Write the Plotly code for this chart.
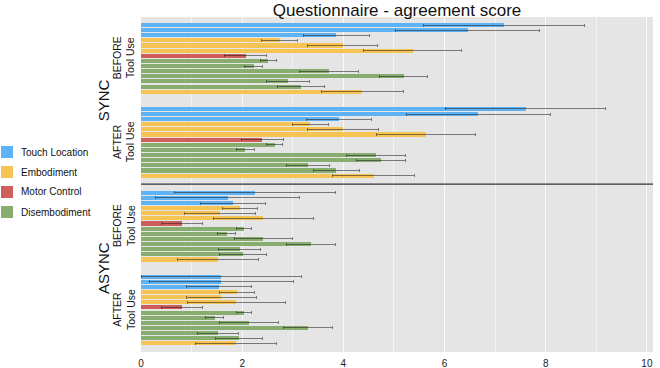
import plotly.graph_objects as go

# ---------------- data ----------------
categories = ["Touch Location", "Embodiment", "Motor Control", "Disembodiment"]
row_category = (["Touch Location"] * 3 + ["Embodiment"] * 3 + ["Motor Control"]
                + ["Disembodiment"] * 6 + ["Embodiment"])

condition_labels = ["SYNC", "ASYNC"]
phase_labels = ["BEFORE<br>Tool Use", "AFTER<br>Tool Use"]

sync_before = [7.17, 6.46, 3.86, 2.74, 3.99, 5.37, 2.07, 2.52, 2.23, 3.72, 5.19, 2.91, 3.16, 4.37]
sync_before_err = [1.59, 1.42, 0.65, 0.35, 0.69, 0.97, 0.42, 0.15, 0.18, 0.58, 0.48, 0.42, 0.47, 0.81]
sync_after = [7.60, 6.67, 3.92, 3.35, 4.00, 5.64, 2.40, 2.64, 2.06, 4.64, 4.74, 3.30, 3.86, 4.60]
sync_after_err = [1.58, 1.42, 0.64, 0.35, 0.70, 0.98, 0.42, 0.15, 0.18, 0.58, 0.48, 0.42, 0.46, 0.81]
async_before = [2.25, 1.71, 1.82, 1.96, 1.56, 2.42, 0.81, 2.04, 1.69, 2.42, 3.36, 1.95, 2.02, 1.52]
async_before_err = [1.59, 1.42, 0.64, 0.35, 0.70, 0.98, 0.41, 0.15, 0.18, 0.58, 0.48, 0.41, 0.46, 0.80]
async_after = [1.59, 1.59, 1.54, 1.90, 1.59, 1.88, 0.81, 2.04, 1.46, 2.13, 3.30, 1.52, 1.94, 1.88]
async_after_err = [1.58, 1.42, 0.64, 0.34, 0.69, 0.97, 0.41, 0.15, 0.18, 0.58, 0.48, 0.41, 0.46, 0.80]

x_tick_values = [0, 2, 4, 6, 8, 10]
x_tick_labels = ["0", "2", "4", "6", "8", "10"]

# ---------------- styling ----------------
colors = {
    "Touch Location": "#5db3f5",
    "Embodiment": "#f5c453",
    "Motor Control": "#cf5e5a",
    "Disembodiment": "#87ae6f",
}
FONT = "Liberation Sans, Arial, Helvetica, sans-serif"
GROUP_STEP = 16.35  # rows per group incl. gap

groups = [(sync_before, sync_before_err), (sync_after, sync_after_err),
          (async_before, async_before_err), (async_after, async_after_err)]

fig = go.Figure()
for cat in categories:
    xs, ys, es = [], [], []
    for g, (vals, errs) in enumerate(groups):
        for r, (v, e) in enumerate(zip(vals, errs)):
            if row_category[r] == cat:
                xs.append(v)
                ys.append(g * GROUP_STEP + r)
                es.append(e)
    fig.add_trace(go.Bar(
        x=xs, y=ys, orientation="h", name=cat, width=0.8,
        marker=dict(color=colors[cat], line=dict(width=0)),
        error_x=dict(type="data", array=es, symmetric=True,
                     color="rgba(30,30,30,0.55)", thickness=1, width=1.5),
        showlegend=False, hoverinfo="skip",
    ))

L, R, T, B = 141, 7, 17, 16
W, H = 660, 368
pw, ph = W - L - R, H - T - B

def px_x(px):
    return (px - L) / pw

def px_y(py):
    return (H - B - py) / ph

annotations = []
shapes = []

# condition labels
for c, lab in enumerate(condition_labels):
    center = (2 * c) * GROUP_STEP + (GROUP_STEP + 13) / 2
    annotations.append(dict(text=lab, x=px_x(103), xref="paper", xanchor="center",
                            y=center, yref="y", yanchor="middle",
                            textangle=-90, showarrow=False,
                            font=dict(size=15, color="#111", family=FONT)))
# phase labels
for g in range(4):
    center = g * GROUP_STEP + 6.5
    annotations.append(dict(text=phase_labels[g % 2], x=px_x(124), xref="paper",
                            xanchor="center", y=center, yref="y", yanchor="middle",
                            textangle=-90, showarrow=False,
                            font=dict(size=10.5, color="#111", family=FONT)))

# separator between SYNC and ASYNC
sep = (GROUP_STEP + 13 + 2 * GROUP_STEP) / 2
shapes.append(dict(type="line", xref="paper", x0=0, x1=1, yref="y", y0=sep, y1=sep,
                   line=dict(color="#333", width=1.3)))

# manual legend
for i, cat in enumerate(categories):
    cy = 152 + 20 * i
    shapes.append(dict(type="rect", xref="paper", yref="paper",
                       x0=px_x(1), x1=px_x(13), y0=px_y(cy + 6), y1=px_y(cy - 6),
                       fillcolor=colors[cat], line=dict(width=0)))
    annotations.append(dict(text=cat, xref="paper", yref="paper", x=px_x(19), y=px_y(cy),
                            xanchor="left", yanchor="middle", showarrow=False,
                            font=dict(size=10, color="#111", family=FONT)))

fig.update_layout(
    width=W, height=H,
    margin=dict(l=L, r=R, t=T, b=B, pad=0, autoexpand=False),
    paper_bgcolor="white", plot_bgcolor="#e5e5e5",
    barmode="overlay", bargap=0, hovermode=False,
    title=dict(text="Questionnaire - agreement score", x=(L + pw / 2) / W, xanchor="center",
               y=1 - 10 / H, yanchor="middle",
               font=dict(size=17, color="#111", family=FONT)),
    xaxis=dict(range=[0, 10.12], tickvals=x_tick_values, ticktext=x_tick_labels,
               automargin=False,
               showgrid=True, gridcolor="rgba(255,255,255,0.55)", gridwidth=1,
               minor=dict(dtick=1, showgrid=True, gridcolor="rgba(255,255,255,0.55)", gridwidth=1),
               zeroline=False, showline=False, ticks="", ticklabelstandoff=4,
               tickfont=dict(size=10, color="#222", family=FONT)),
    yaxis=dict(range=[63.74, -1.56], showticklabels=False, showgrid=False, automargin=False,
               zeroline=False, showline=False, ticks=""),
    annotations=annotations, shapes=shapes,
    font=dict(family=FONT),
)

fig.write_html("out.html", config={"displayModeBar": False, "staticPlot": True},
               post_script="document.body.style.margin='0px';document.body.style.overflow='hidden';")
